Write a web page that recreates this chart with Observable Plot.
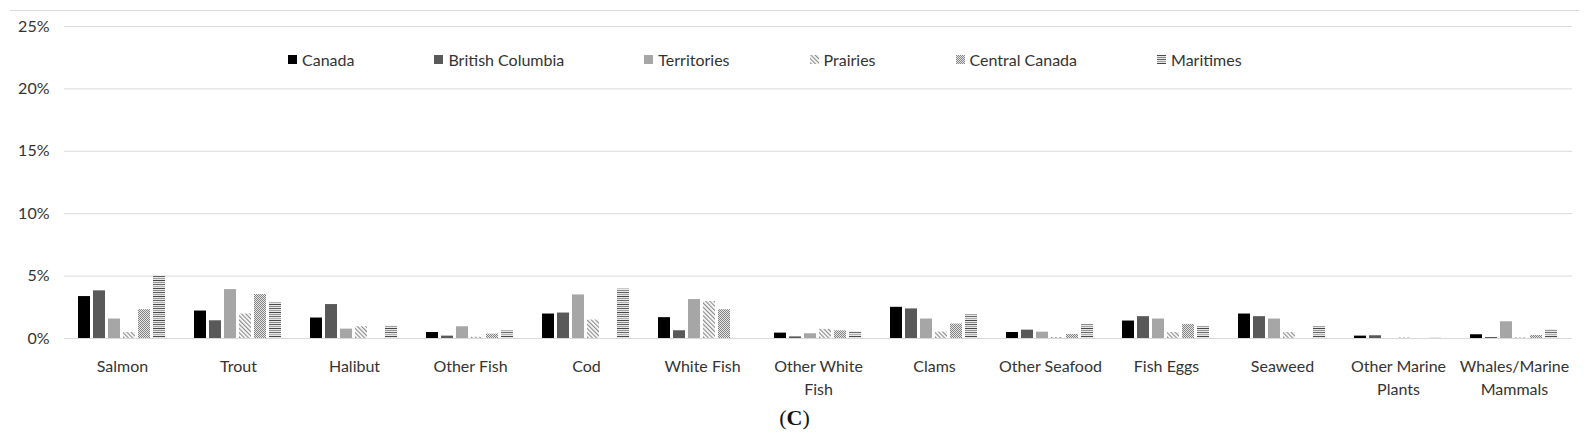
<!DOCTYPE html>
<html><head><meta charset="utf-8">
<script src="https://cdn.jsdelivr.net/npm/d3@7"></script>
<script src="https://cdn.jsdelivr.net/npm/@observablehq/plot@0.6"></script>
<style>
body{margin:0;background:#fff;font-family:Lato,"Open Sans",sans-serif;}
#wrap{position:relative;width:1589px;height:442px;overflow:hidden;background:#fff}
#topline{position:absolute;left:10px;right:10px;top:10px;height:1px;background:#d9d9d9}
#legend{position:absolute;left:288px;top:50px;display:flex;gap:80px;font-size:16px;color:#333;align-items:center;white-space:nowrap}
.item{display:flex;align-items:center;gap:5px}
.item svg{display:block}
#caption{position:absolute;left:0;width:1589px;top:405px;text-align:center;font-family:"Liberation Serif",serif;font-size:22px;color:#111}
</style></head>
<body><div id="wrap"><div id="chart"></div><div id="topline"></div><div id="legend"></div><div id="caption">(<b>C</b>)</div></div>
<script>
const categories = ["Salmon","Trout","Halibut","Other Fish","Cod","White Fish","Other White Fish","Clams","Other Seafood","Fish Eggs","Seaweed","Other Marine Plants","Whales/Marine Mammals"];
const categoryLabels = ["Salmon","Trout","Halibut","Other Fish","Cod","White Fish","Other White\nFish","Clams","Other Seafood","Fish Eggs","Seaweed","Other Marine\nPlants","Whales/Marine\nMammals"];
const series = ["Canada","British Columbia","Territories","Prairies","Central Canada","Maritimes"];
const canada          = [3.36, 2.20, 1.64, 0.48, 1.96, 1.67, 0.43, 2.50, 0.48, 1.40, 1.96, 0.19, 0.30];
const britishColumbia = [3.82, 1.42, 2.72, 0.19, 2.04, 0.62, 0.13, 2.37, 0.67, 1.75, 1.75, 0.22, 0.08];
const territories     = [1.56, 3.92, 0.75, 0.94, 3.49, 3.12, 0.38, 1.56, 0.51, 1.56, 1.56, 0.00, 1.34];
const prairies        = [0.48, 1.96, 0.94, 0.10, 1.48, 2.96, 0.73, 0.51, 0.08, 0.48, 0.48, 0.05, 0.05];
const centralCanada   = [2.31, 3.52, 0.00, 0.35, 0.00, 2.31, 0.62, 1.16, 0.33, 1.13, 0.00, 0.00, 0.24];
const maritimes       = [5.00, 2.90, 1.00, 0.62, 3.95, 0.00, 0.54, 1.91, 1.10, 0.97, 0.97, 0.08, 0.70];
const yTicks = [0, 5, 10, 15, 20, 25];

const seriesValues = [canada, britishColumbia, territories, prairies, centralCanada, maritimes];
const fills = ["#000000", "#595959", "#a6a6a6", "url(#p-prairies)", "url(#p-central)", "url(#p-maritimes)"];

const data = [];
categories.forEach((c, i) => series.forEach((s, j) => data.push({category: c, series: s, value: seriesValues[j][i]})));
const labelOf = new Map(categories.map((c, i) => [c, categoryLabels[i]]));

const chart = Plot.plot({
  width: 1589, height: 400,
  marginTop: 26, marginBottom: 62, marginLeft: 58, marginRight: 12,
  fx: {domain: categories, padding: 0, axis: null, label: null},
  x: {domain: series, paddingInner: 0.19, paddingOuter: 0.86, axis: null, label: null},
  y: {domain: [0, 25], label: null},
  color: {domain: series, range: fills},
  style: {fontFamily: "Lato, 'Open Sans', sans-serif", fontSize: "16px", color: "#333", background: "transparent"},
  marks: [
    Plot.gridY(yTicks, {stroke: "#d9d9d9", strokeOpacity: 1}),
    Plot.axisY(yTicks, {tickSize: 0, tickPadding: 15, tickFormat: d => d + "%", fontSize: 16, fill: "#333", label: null}),
    Plot.barY(data, {fx: "category", x: "series", y: "value", fill: "series"}),
    Plot.text(categories, {fx: d => d, text: d => labelOf.get(d), frameAnchor: "bottom", lineAnchor: "top", dy: 17, lineHeight: 1.45, fontSize: 16, fill: "#333"})
  ]
});

let maritimeRows = "";
const mg = ["#4a4a4a","#8a8a8a","#5e5e5e","#a0a0a0","#454545","#959595","#6a6a6a","#b0b0b0"];
mg.forEach((g, k) => { maritimeRows += `<rect x="0" y="${k*2}" width="4" height="1" fill="${g}"/>`; });
const defs = `<defs>
<pattern id="p-prairies" width="3" height="3" patternUnits="userSpaceOnUse" patternTransform="rotate(-45)">
<rect width="3" height="3" fill="#ffffff"/><rect x="0" y="0" width="1.2" height="3" fill="#8a8a8a"/></pattern>
<pattern id="p-central" width="2" height="2" patternUnits="userSpaceOnUse">
<rect width="2" height="2" fill="#e4e4e4"/><rect x="0" y="0" width="1" height="1" fill="#858585"/><rect x="1" y="1" width="1" height="1" fill="#858585"/></pattern>
<pattern id="p-maritimes" width="4" height="16" patternUnits="userSpaceOnUse">
<rect width="4" height="16" fill="#e8e8e8"/>${maritimeRows}</pattern>
</defs>`;
chart.insertAdjacentHTML("afterbegin", defs);
document.getElementById("chart").appendChild(chart);

const legend = document.getElementById("legend");
series.forEach((s, j) => {
  const item = document.createElement("div");
  item.className = "item";
  item.innerHTML = `<svg width="9" height="9"><rect width="9" height="9" fill="${fills[j]}"/></svg><span>${s}</span>`;
  legend.appendChild(item);
});
</script>
</body></html>
